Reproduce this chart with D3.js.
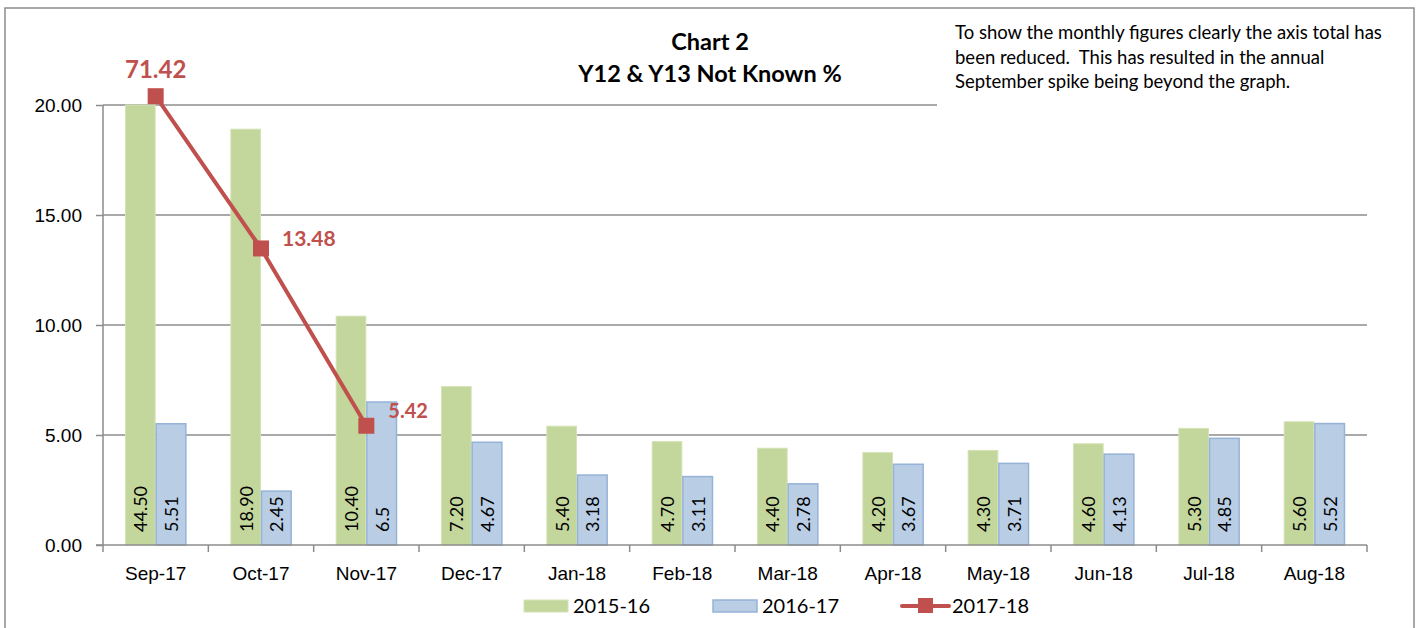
<!DOCTYPE html>
<html>
<head>
<meta charset="utf-8">
<script src="https://cdn.jsdelivr.net/npm/d3@7"></script>
<style>
  body { margin: 0; background: #fff; }
  svg { display: block; font-family: Lato, 'Open Sans', sans-serif; }
  .grid line { stroke: #8c8c8c; stroke-width: 1.5px; }
  .axis path, .axis line { stroke: #8c8c8c; stroke-width: 1.5px; }
  .axis text { fill: #000; font-size: 19px; }
  .bar-label { font-size: 18px; fill: #000; }
  .pt-label { fill: #C0504D; font-weight: bold; }
</style>
</head>
<body>
<div id="chart"></div>
<script>
// ---- data ----
const months = ['Sep-17', 'Oct-17', 'Nov-17', 'Dec-17', 'Jan-18', 'Feb-18',
  'Mar-18', 'Apr-18', 'May-18', 'Jun-18', 'Jul-18', 'Aug-18'];
const series1516 = [44.50, 18.90, 10.40, 7.20, 5.40, 4.70, 4.40, 4.20, 4.30, 4.60, 5.30, 5.60];
const labels1516 = ['44.50', '18.90', '10.40', '7.20', '5.40', '4.70', '4.40', '4.20', '4.30', '4.60', '5.30', '5.60'];
const series1617 = [5.51, 2.45, 6.5, 4.67, 3.18, 3.11, 2.78, 3.67, 3.71, 4.13, 4.85, 5.52];
const labels1617 = ['5.51', '2.45', '6.5', '4.67', '3.18', '3.11', '2.78', '3.67', '3.71', '4.13', '4.85', '5.52'];
const series1718 = [71.42, 13.48, 5.42];
const yTicks = [0, 5, 10, 15, 20];
const seriesNames = ['2015-16', '2016-17', '2017-18'];

const W = 1418, H = 628;
const margin = { top: 105, right: 51, bottom: 83, left: 103 };
const innerW = W - margin.left - margin.right;
const innerH = H - margin.top - margin.bottom;
const yMax = 20;
const overflowCap = 20.4;   // off-scale points sit just above the plot top

const green = '#C3D69B', greenEdge = '#D4E3B5';
const blue = '#B9CDE5', blueEdge = '#95B3D7';
const red = '#C0504D';

const svg = d3.select('#chart').append('svg').attr('width', W).attr('height', H);

// outer chart border
svg.append('rect')
  .attr('x', 5).attr('y', 8).attr('width', 1409).attr('height', H + 10)
  .attr('fill', '#fff').attr('stroke', '#8c8c8c').attr('stroke-width', 1.5);

const g = svg.append('g').attr('transform', `translate(${margin.left},${margin.top})`);

const x = d3.scaleBand().domain(months).range([0, innerW]).paddingInner(0).paddingOuter(0);
const xSub = d3.scaleBand().domain(['a', 'b']).range([22, x.bandwidth() - 22]).padding(0);
const y = d3.scaleLinear().domain([0, yMax]).range([innerH, 0]);

// gridlines
g.append('g').attr('class', 'grid')
  .selectAll('line').data(yTicks.filter(d => d > 0)).join('line')
  .attr('x1', 0).attr('x2', innerW)
  .attr('y1', d => y(d)).attr('y2', d => y(d));

// bars
const cats = g.append('g').selectAll('g').data(months).join('g')
  .attr('transform', d => `translate(${x(d)},0)`);

cats.append('rect')
  .attr('x', xSub('a') + 0.5).attr('width', xSub.bandwidth() - 1)
  .attr('y', (d, i) => y(Math.min(series1516[i], yMax)))
  .attr('height', (d, i) => innerH - y(Math.min(series1516[i], yMax)))
  .attr('fill', green).attr('stroke', greenEdge).attr('stroke-width', 1);

cats.append('rect')
  .attr('x', xSub('b') + 0.5).attr('width', xSub.bandwidth() - 1)
  .attr('y', (d, i) => y(Math.min(series1617[i], yMax)))
  .attr('height', (d, i) => innerH - y(Math.min(series1617[i], yMax)))
  .attr('fill', blue).attr('stroke', blueEdge).attr('stroke-width', 1.5);

// rotated bar value labels
cats.append('text').attr('class', 'bar-label')
  .attr('transform', `translate(${xSub('a') + xSub.bandwidth() / 2 + 7},${innerH - 13}) rotate(-90)`)
  .text((d, i) => labels1516[i]);
cats.append('text').attr('class', 'bar-label')
  .attr('transform', `translate(${xSub('b') + xSub.bandwidth() / 2 + 7},${innerH - 13}) rotate(-90)`)
  .text((d, i) => labels1617[i]);

// axes
g.append('g').attr('class', 'axis')
  .call(d3.axisLeft(y).tickValues(yTicks).tickFormat(d3.format('.2f')).tickSize(7).tickPadding(14))
  .call(a => a.select('.domain').attr('d', `M-7,${innerH}H0V${y(yMax)}`));

const xAxis = g.append('g').attr('class', 'axis')
  .attr('transform', `translate(0,${innerH})`)
  .call(d3.axisBottom(x).tickSize(0).tickPadding(22))
  .call(a => a.select('.domain').attr('d', `M0,0H${innerW}`));
xAxis.selectAll('.sep').data(d3.range(months.length + 1)).join('line')
  .attr('class', 'sep')
  .attr('x1', i => i * x.step()).attr('x2', i => i * x.step())
  .attr('y1', 0).attr('y2', 7);

// 2017-18 line
const ptY = v => y(Math.min(v, overflowCap));
const pts = series1718.map((v, i) => ({ m: months[i], v }));
g.append('path').datum(pts)
  .attr('fill', 'none').attr('stroke', red).attr('stroke-width', 4)
  .attr('d', d3.line().x(d => x(d.m) + x.bandwidth() / 2).y(d => ptY(d.v)));

g.selectAll('.marker').data(pts).join('rect').attr('class', 'marker')
  .attr('x', d => x(d.m) + x.bandwidth() / 2 - 8).attr('y', d => ptY(d.v) - 8)
  .attr('width', 16).attr('height', 16).attr('fill', red);

const ptLabelPos = [
  { dx: 0, dy: -18, anchor: 'middle', size: 24 },
  { dx: 21, dy: -2, anchor: 'start', size: 21 },
  { dx: 22, dy: -8, anchor: 'start', size: 20 }
];
g.selectAll('.pt-label').data(pts).join('text').attr('class', 'pt-label')
  .attr('x', (d, i) => x(d.m) + x.bandwidth() / 2 + ptLabelPos[i].dx)
  .attr('y', (d, i) => ptY(d.v) + ptLabelPos[i].dy)
  .attr('text-anchor', (d, i) => ptLabelPos[i].anchor)
  .style('font-size', (d, i) => ptLabelPos[i].size + 'px')
  .text(d => d3.format('.2f')(d.v));

// note box covers the plot's top-right corner
svg.append('rect').attr('x', 937).attr('y', 9).attr('width', 476).attr('height', 105).attr('fill', '#fff');
const note = svg.append('text').attr('x', 955).attr('y', 39).style('font-size', '18.5px').attr('fill', '#000');
['To show the monthly figures clearly the axis total has',
 'been reduced.  This has resulted in the annual',
 'September spike being beyond the graph.']
  .forEach((t, i) => note.append('tspan').attr('x', 955).attr('dy', i ? 24.5 : 0).attr('xml:space', 'preserve').text(t));

// title
svg.append('text').attr('x', 710).attr('y', 50).attr('text-anchor', 'middle')
  .style('font-size', '23.5px').style('font-weight', 'bold').text('Chart 2');
svg.append('text').attr('x', 710).attr('y', 82).attr('text-anchor', 'middle')
  .style('font-size', '23.5px').style('font-weight', 'bold').text('Y12 & Y13 Not Known %');

// legend
const lg = svg.append('g').style('font-size', '20px');
const legendX = [524, 713, 902];
lg.append('rect').attr('x', legendX[0]).attr('y', 600).attr('width', 44).attr('height', 12).attr('fill', green).attr('stroke', greenEdge);
lg.append('rect').attr('x', legendX[1]).attr('y', 600).attr('width', 44).attr('height', 12).attr('fill', blue).attr('stroke', blueEdge).attr('stroke-width', 1.5);
lg.append('line').attr('x1', legendX[2]).attr('x2', legendX[2] + 47).attr('y1', 606).attr('y2', 606).attr('stroke', red).attr('stroke-width', 4).attr('stroke-linecap', 'round');
lg.append('rect').attr('x', legendX[2] + 16).attr('y', 598).attr('width', 15).attr('height', 15).attr('fill', red);
lg.selectAll('.lt').data(seriesNames).join('text').attr('class', 'lt')
  .attr('x', (d, i) => legendX[i] + (i === 2 ? 50 : 49)).attr('y', 613).text(d => d);
</script>
</body>
</html>
